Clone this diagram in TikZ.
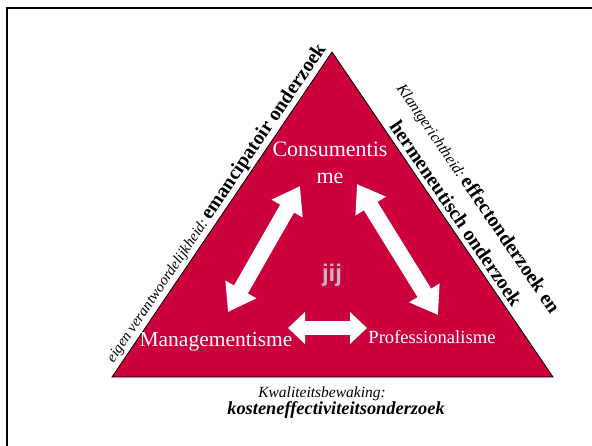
\documentclass[tikz,border=0pt]{standalone}
\usepackage{fontspec}
\setmainfont{Liberation Serif}
\newfontfamily\jijfont{Liberation Sans}
\usetikzlibrary{arrows.meta}
\definecolor{crimson}{RGB}{204,0,61}
\definecolor{jijgrey}{RGB}{196,182,190}
\begin{document}
\begin{tikzpicture}[x=1pt,y=-1pt,
  blockarrow/.style={white, line width=16pt, {Triangle[length=26pt,width=34pt]}-{Triangle[length=26pt,width=34pt]}},
  smallarrow/.style={white, line width=14pt, {Triangle[length=17pt,width=31pt]}-{Triangle[length=17pt,width=31pt]}},
  inlabel/.style={text=white, anchor=base, inner sep=0pt},
  sidelabel/.style={anchor=base, inner sep=0pt},
  fs/.style={font=\fontsize{#1}{#1}\selectfont}]
\useasboundingbox (0,0) rectangle (592,445);
\fill[white] (0,0) rectangle (592,445);
\draw[line width=2.5pt] (7,447) -- (7,8) -- (594,8);
\coordinate (A) at (112,377);
\coordinate (T) at (332,52);
\coordinate (B) at (553,377);
\filldraw[fill=crimson, draw=black, line width=0.8pt] (A) -- (T) -- (B) -- cycle;
% labels inside
\node[inlabel, fs=22] (cons1) at (330,156) {Consumentis};
\node[inlabel, fs=22] (cons2) at (330,183) {me};
\node[inlabel, fs=21.5] (mgmt) at (216,346) {Managementisme};
\node[inlabel, fs=18.6] (prof) at (432,343) {Professionalisme};
\node[anchor=base, inner sep=0pt, text=jijgrey, font=\jijfont\bfseries\fontsize{24}{24}\selectfont] (jij) at (332,281) {jij};
% arrows
\coordinate (la1) at (300,186); \coordinate (la2) at (228,312);
\coordinate (ra1) at (357,184); \coordinate (ra2) at (438,315);
\coordinate (ba1) at (288,328); \coordinate (ba2) at (367,328);
\draw[blockarrow] (la1) -- (la2);
\draw[blockarrow] (ra1) -- (ra2);
\draw[smallarrow] (ba1) -- (ba2);
% side labels
\node[sidelabel, rotate=55.9] (leftlab) at (220,206)
  {{\fontsize{15}{16}\selectfont\itshape eigen verantwoordelijkheid:} {\fontsize{20}{22}\selectfont\bfseries emancipatoir onderzoek}};
\node[sidelabel, rotate=-55.8] (rightlab1) at (473.4,201.4)
  {{\fontsize{15.5}{16}\selectfont\itshape Klantgerichtheid:} {\fontsize{20}{22}\selectfont\bfseries effectonderzoek en}};
\node[sidelabel, rotate=-55.8, fs=20] (rightlab2) at (450.5,217)
  {\bfseries hermeneutisch onderzoek};
\node[sidelabel, fs=15.5] (kw) at (322,397) {\itshape Kwaliteitsbewaking:};
\node[sidelabel, fs=18.4] (ko) at (336,414) {\bfseries\itshape kosteneffectiviteitsonderzoek};
\end{tikzpicture}
\end{document}
